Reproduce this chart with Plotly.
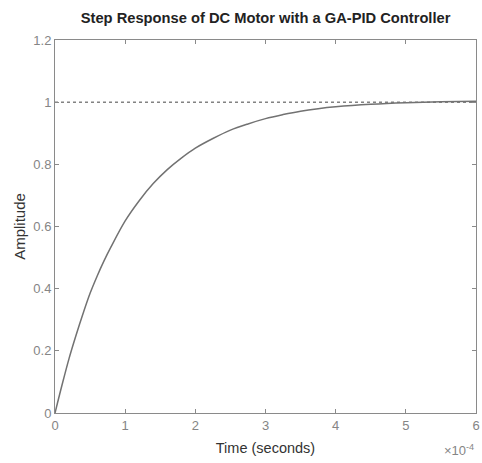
import plotly.graph_objects as go

# Time in units of 1e-4 seconds
time_e4 = [0, 0.1, 0.2, 0.3, 0.4, 0.5, 0.6, 0.7, 0.8, 1.0, 1.2, 1.4, 1.6, 1.8, 2.0,
           2.25, 2.5, 2.75, 3.0, 3.25, 3.5, 3.75, 4.0, 4.5, 5.0, 5.5, 6.0]
amplitude = [0, 0.09, 0.175, 0.25, 0.32, 0.385, 0.44, 0.49, 0.535, 0.618, 0.683, 0.738,
             0.783, 0.82, 0.852, 0.883, 0.91, 0.93, 0.947, 0.96, 0.971, 0.979, 0.985,
             0.993, 0.998, 1.001, 1.003]
ref_x = [0, 6]
ref_y = [1, 1]
x_ticks = [0, 1, 2, 3, 4, 5, 6]
y_ticks = [0, 0.2, 0.4, 0.6, 0.8, 1, 1.2]
y_tick_text = ["0", "0.2", "0.4", "0.6", "0.8", "1", "1.2"]

FONT = "Liberation Sans, Arial, sans-serif"
axis_col = "#8a8a8a"
tick_font = dict(family=FONT, size=13, color="#858585")

fig = go.Figure()
fig.add_trace(go.Scatter(x=ref_x, y=ref_y, mode="lines",
                         line=dict(color="#444444", width=1, dash="dot"),
                         hoverinfo="skip", showlegend=False))
fig.add_trace(go.Scatter(x=time_e4, y=amplitude, mode="lines",
                         line=dict(color="#727272", width=1.5, shape="spline"),
                         showlegend=False))

fig.update_layout(
    width=482, height=463,
    margin=dict(l=55, r=6, t=40, b=50, autoexpand=False),
    paper_bgcolor="white", plot_bgcolor="white",
    title=dict(text="<b>Step Response of DC Motor with a GA-PID Controller</b>",
               x=0.551, xanchor="center", y=0.962, yanchor="middle",
               font=dict(family=FONT, size=14.7, color="#222222")),
    xaxis=dict(range=[0, 6], tickvals=x_ticks, ticks="inside", ticklen=4,
               tickcolor=axis_col, showline=True, linecolor=axis_col, linewidth=1,
               mirror="ticks", showgrid=False, zeroline=False, tickfont=tick_font,
               automargin=False,
               title=dict(text="Time (seconds)", standoff=11,
                          font=dict(family=FONT, size=14.5, color="#333333"))),
    yaxis=dict(range=[0, 1.2], tickvals=y_ticks, ticktext=y_tick_text, ticks="inside", ticklen=4,
               tickcolor=axis_col, showline=True, linecolor=axis_col, linewidth=1,
               mirror="ticks", showgrid=False, zeroline=False, tickfont=tick_font,
               automargin=False,
               title=dict(text="Amplitude", standoff=4,
                          font=dict(family=FONT, size=15, color="#333333"))),
)
fig.add_annotation(text="×10<sup>-4</sup>", xref="paper", yref="paper", x=1.0, y=-0.072,
                   xanchor="right", yanchor="top", showarrow=False,
                   font=dict(family=FONT, size=13, color="#858585"))

fig.write_html("out.html", config={"displayModeBar": False},
               post_script="document.body.style.margin='0';")
